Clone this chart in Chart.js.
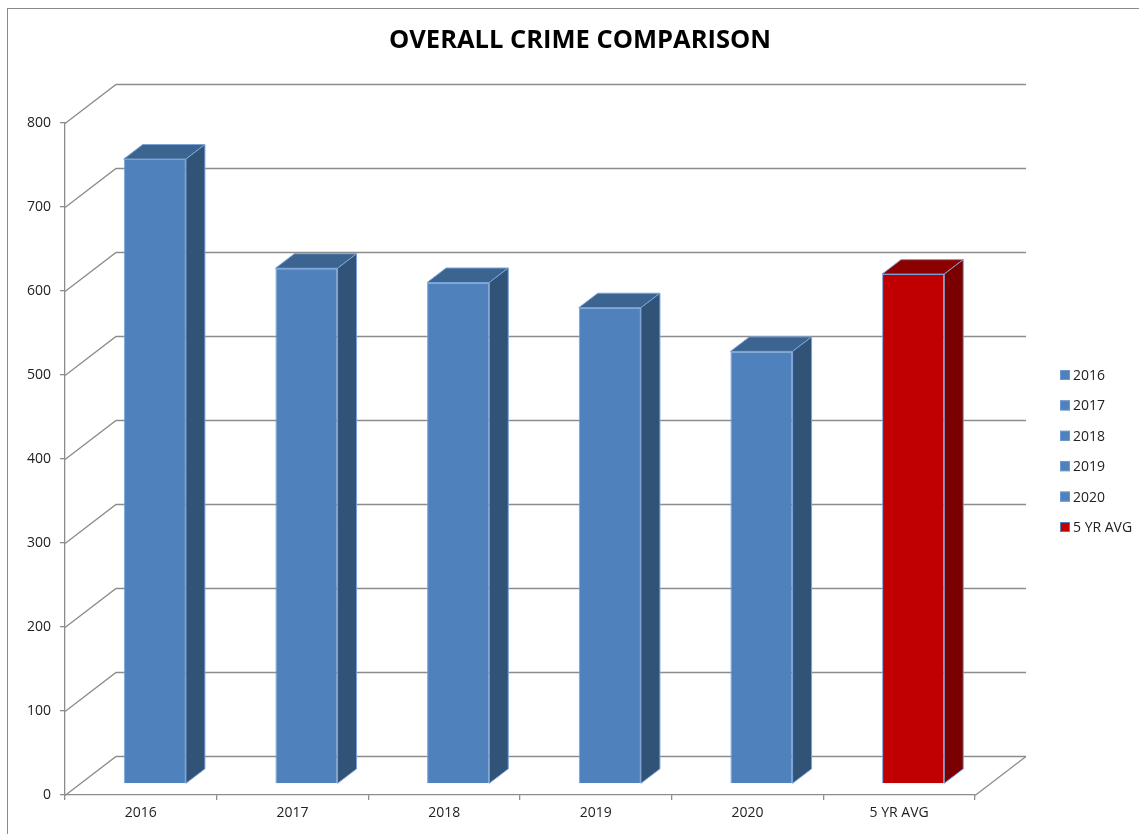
<!DOCTYPE html>
<html>
<head>
<meta charset="utf-8">
<script src="https://cdn.jsdelivr.net/npm/chart.js@4/dist/chart.umd.min.js"></script>
<style>
  body { margin: 0; background: #fff; }
  #wrap { width: 1139px; height: 834px; }
</style>
</head>
<body>
<div id="wrap"><canvas id="crimeChart" width="1139" height="834"></canvas></div>
<script>
// data
const categories = ["2016", "2017", "2018", "2019", "2020", "5 YR AVG"];
const crimeTotals = [744, 614, 597, 567, 515, 607];
const yTicks = [0, 100, 200, 300, 400, 500, 600, 700, 800];
const chartTitle = "OVERALL CRIME COMPARISON";

// styling
const frontColors = ["#4f81bd", "#4f81bd", "#4f81bd", "#4f81bd", "#4f81bd", "#c00000"];
const sideColors = ["#325378", "#325378", "#325378", "#325378", "#325378", "#7a0000"];
const topColors = ["#3b6490", "#3b6490", "#3b6490", "#3b6490", "#3b6490", "#8c0000"];
const edgeColor = "#7aa3d8";
const gridColor = "#8c8c8c";
const fontFamily = "'Open Sans', 'Liberation Sans', sans-serif";

const WALL = { dx: 51, dy: -39 };   // front plane -> back wall
const BAR_SHIFT = { dx: 14, dy: -11 }; // front plane -> bar front face
const BAR_DEPTH = { dx: 19, dy: -14.5 };

const threeD = {
    id: "threeD",
    beforeDraw(chart) {
        const ctx = chart.ctx;
        ctx.save();
        ctx.strokeStyle = "#8a8a8a";
        ctx.lineWidth = 1;
        ctx.strokeRect(7.5, 8.5, 1300, 1000);
        // title, centred on the whole picture
        ctx.font = "bold 25.5px " + fontFamily;
        ctx.fillStyle = "#000";
        ctx.textAlign = "center";
        ctx.textBaseline = "alphabetic";
        ctx.fillText(chartTitle, 580, 48);
        ctx.restore();
    },
    beforeDatasetsDraw(chart) {
        const ctx = chart.ctx;
        const area = chart.chartArea;
        const y = chart.scales.y;
        ctx.save();
        ctx.strokeStyle = gridColor;
        ctx.lineWidth = 1.3;
        yTicks.forEach(v => {
            const py = Math.round(y.getPixelForValue(v)) + 0.5;
            ctx.beginPath();
            ctx.moveTo(area.left, py);
            ctx.lineTo(area.left + WALL.dx, py + WALL.dy);
            ctx.lineTo(area.right + WALL.dx, py + WALL.dy);
            ctx.stroke();
        });
        // right floor edge
        const py0 = Math.round(y.getPixelForValue(0)) + 0.5;
        ctx.beginPath();
        ctx.moveTo(area.right, py0);
        ctx.lineTo(area.right + WALL.dx, py0 + WALL.dy);
        ctx.stroke();
        ctx.restore();

        // bars sit a bit behind the front plane
        ctx.save();
        ctx.translate(BAR_SHIFT.dx, BAR_SHIFT.dy);
    },
    afterDatasetsDraw(chart) {
        const ctx = chart.ctx;
        const meta = chart.getDatasetMeta(0);
        meta.data.forEach((bar, i) => {
            const p = bar.getProps(["x", "y", "base", "width"], true);
            const l = p.x - p.width / 2, r = p.x + p.width / 2;
            ctx.lineWidth = 1;
            ctx.strokeStyle = edgeColor;
            // top face
            ctx.beginPath();
            ctx.moveTo(l, p.y);
            ctx.lineTo(l + BAR_DEPTH.dx, p.y + BAR_DEPTH.dy);
            ctx.lineTo(r + BAR_DEPTH.dx, p.y + BAR_DEPTH.dy);
            ctx.lineTo(r, p.y);
            ctx.closePath();
            ctx.fillStyle = topColors[i];
            ctx.fill();
            ctx.stroke();
            // side face
            ctx.beginPath();
            ctx.moveTo(r, p.y);
            ctx.lineTo(r + BAR_DEPTH.dx, p.y + BAR_DEPTH.dy);
            ctx.lineTo(r + BAR_DEPTH.dx, p.base + BAR_DEPTH.dy);
            ctx.lineTo(r, p.base);
            ctx.closePath();
            ctx.fillStyle = sideColors[i];
            ctx.fill();
            ctx.stroke();
        });
        ctx.restore();
    },
    afterDraw(chart) {
        // legend on the right
        const ctx = chart.ctx;
        ctx.save();
        ctx.font = "14px " + fontFamily;
        ctx.textBaseline = "middle";
        categories.forEach((label, i) => {
            const cy = 375 + i * 30.4;
            ctx.fillStyle = frontColors[i];
            ctx.fillRect(1060, cy - 5, 10, 10);
            ctx.strokeStyle = i === 5 ? "#4f81bd" : "#6f97cc";
            ctx.lineWidth = 1;
            ctx.strokeRect(1060.5, cy - 4.5, 9, 9);
            ctx.fillStyle = "#222";
            ctx.fillText(label, 1073, cy + 1);
        });
        ctx.restore();
    }
};

new Chart(document.getElementById("crimeChart"), {
    type: "bar",
    data: {
        labels: categories,
        datasets: [{
            label: "Overall Crime",
            data: crimeTotals,
            backgroundColor: frontColors,
            borderColor: edgeColor,
            borderWidth: 1,
            barPercentage: 0.41,
            categoryPercentage: 1
        }]
    },
    options: {
        responsive: false,
        animation: false,
        layout: { padding: { left: 0, right: 164, top: 123, bottom: 0 } },
        plugins: {
            legend: { display: false },
            tooltip: { enabled: false },
            title: { display: false }
        },
        scales: {
            x: {
                grid: { display: true, drawOnChartArea: false, drawTicks: true, tickLength: 5, color: gridColor, lineWidth: 1.3 },
                border: { display: true, color: gridColor, width: 1.3 },
                ticks: { color: "#222", font: { family: fontFamily, size: 14 }, padding: 5 },
                afterFit(scale) { scale.height = 39; }
            },
            y: {
                min: 0,
                max: 800,
                ticks: { stepSize: 100, color: "#222", font: { family: fontFamily, size: 14 }, padding: 9 },
                grid: { display: true, drawOnChartArea: false, drawTicks: true, tickLength: 5, color: gridColor, lineWidth: 1.3 },
                border: { display: true, color: gridColor, width: 1.3 },
                afterFit(scale) { scale.width = 65; }
            }
        }
    },
    plugins: [threeD]
});
</script>
</body>
</html>
